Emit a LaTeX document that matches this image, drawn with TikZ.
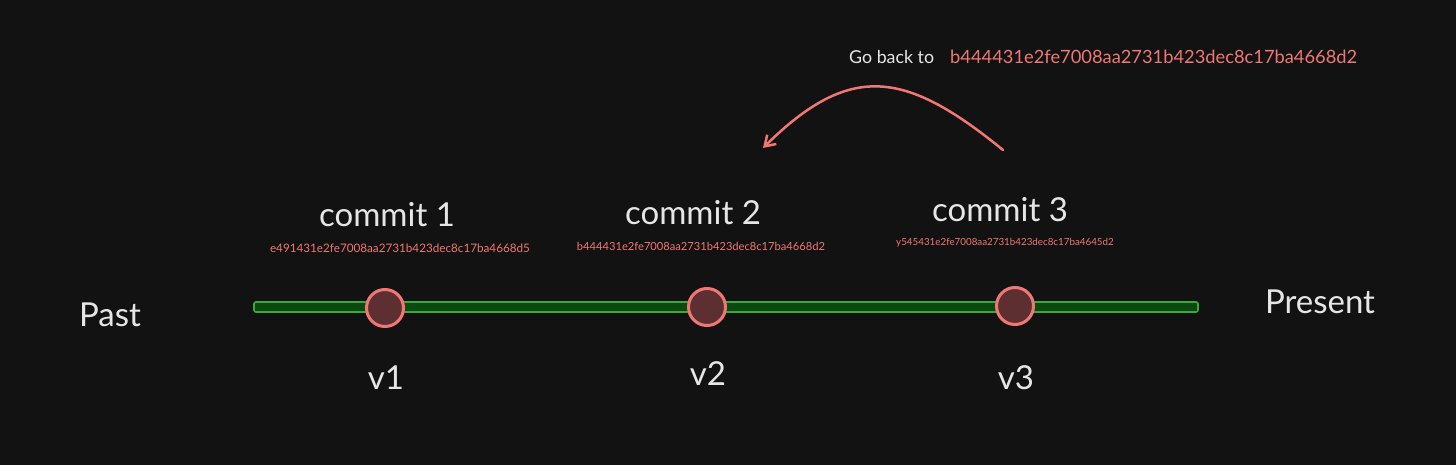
\documentclass[tikz,border=0pt]{standalone}
\usepackage{fontspec}
\setmainfont{Lato}
\usetikzlibrary{arrows.meta}
\definecolor{bg}{HTML}{121212}
\definecolor{txt}{HTML}{E6E6E6}
\definecolor{salmon}{HTML}{F07874}
\definecolor{barfill}{HTML}{0B4A0E}
\definecolor{barline}{HTML}{3AA83F}
\definecolor{dotfill}{HTML}{5E2F30}
\tikzset{
  big/.style={text=txt, font=\fontsize{33}{36}\selectfont, inner sep=0pt},
  hashtxt/.style={text=salmon, inner sep=0pt},
  commitdot/.style={circle, draw=salmon, line width=3pt, fill=dotfill, minimum size=37pt, inner sep=0pt},
}
\begin{document}
\begin{tikzpicture}[x=1pt,y=-1pt]
\fill[bg] (0,0) rectangle (1456,465);
\useasboundingbox (0,0) rectangle (1456,465);
% bar
\node[draw=barline, line width=1.6pt, fill=barfill, rounded corners=2pt, minimum width=944pt, minimum height=10pt, inner sep=0pt] (bar) at (726,307) {};
% dots
\node[commitdot] (c1) at (385,308) {};
\node[commitdot] (c2) at (707,307) {};
\node[commitdot] (c3) at (1015,306) {};
% labels
\node[big] (past) at (110,315) {Past};
\node[big] (present) at (1320,302) {Present};
\node[big] (t1) at (387,215) {commit 1};
\node[big] (t2) at (693,213) {commit 2};
\node[big] (t3) at (1000,210) {commit 3};
\node[hashtxt, font=\fontsize{11.7}{13}\selectfont] (h1) at (400,248) {e491431e2fe7008aa2731b423dec8c17ba4668d5};
\node[hashtxt, font=\fontsize{11.15}{13}\selectfont] (h2) at (701,246) {b444431e2fe7008aa2731b423dec8c17ba4668d2};
\node[hashtxt, font=\fontsize{9.8}{12}\selectfont] (h3) at (1005,243) {y545431e2fe7008aa2731b423dec8c17ba4645d2};
\node[big] (v1) at (386,378) {v1};
\node[big] (v2) at (708,374) {v2};
\node[big] (v3) at (1016,378) {v3};
% go back
\node[text=txt, font=\fontsize{17.8}{20}\selectfont, inner sep=0pt, anchor=west] (go) at (849,57) {Go back to};
\node[text=salmon, font=\fontsize{18.3}{21}\selectfont, inner sep=0pt, anchor=west] (gh) at (950,57) {b444431e2fe7008aa2731b423dec8c17ba4668d2};
% arrow
\coordinate (as) at (1003,150);
\coordinate (ae) at (763,148);
\draw[salmon, line width=2.5pt, line cap=round, -{Straight Barb[length=10pt,width=13pt]}]
  (as) .. controls (905,70) and (850,62) .. (ae);
\end{tikzpicture}
\end{document}
